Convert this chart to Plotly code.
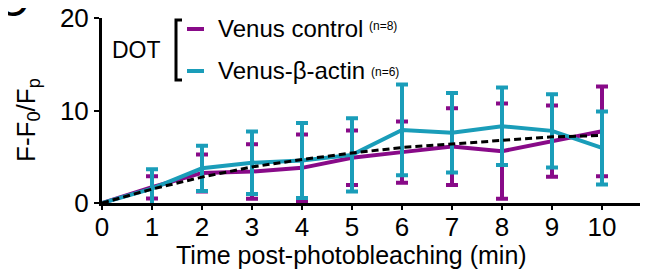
import plotly.graph_objects as go

# ---- data ----
time_min = [0, 1, 2, 3, 4, 5, 6, 7, 8, 9, 10]

control_mean = [0, 1.7, 3.25, 3.4, 3.8, 4.9, 5.5, 6.1, 5.6, 6.7, 7.75]
control_err = [0, 1.2, 2.0, 2.95, 3.6, 2.95, 3.3, 4.15, 5.15, 3.85, 4.85]

actin_mean = [0, 1.55, 3.75, 4.35, 4.6, 5.2, 7.9, 7.6, 8.3, 7.8, 5.95]
actin_err = [0, 2.1, 2.45, 3.37, 4.05, 3.97, 4.9, 4.3, 4.2, 3.95, 3.95]

fit_values = [0, 1.5, 2.8, 3.9, 4.7, 5.4, 6.0, 6.4, 6.8, 7.15, 7.3]

x_ticks = [0, 1, 2, 3, 4, 5, 6, 7, 8, 9, 10]
y_ticks = [0, 10, 20]

PURPLE = "#880a88"
CYAN = "#1a9db9"
FONT = "Liberation Sans, Arial, sans-serif"

# page body has an 8px margin: figure coordinates = reference pixels - 8
OFF = 8
W, H = 640, 269
L, R, T, B = 94, 8, 10, 74
PW, PH = W - L - R, H - T - B


def px(p):
    return (p - OFF - L) / PW


def py(p):
    return (H - B - (p - OFF)) / PH


fig = go.Figure()

fig.add_trace(go.Scatter(
    x=time_min, y=control_mean, mode="lines",
    line=dict(color=PURPLE, width=4),
    error_y=dict(type="data", array=control_err, color=PURPLE, thickness=4, width=6),
    showlegend=False,
))
fig.add_trace(go.Scatter(
    x=time_min, y=actin_mean, mode="lines",
    line=dict(color=CYAN, width=4),
    error_y=dict(type="data", array=actin_err, color=CYAN, thickness=4, width=6),
    showlegend=False,
))
fig.add_trace(go.Scatter(
    x=time_min, y=fit_values, mode="lines",
    line=dict(color="black", width=3, dash="7px,4px"),
    showlegend=False,
))

fig.update_xaxes(
    range=[0, PW / 50.0], tickvals=x_ticks, ticktext=[str(v) for v in x_ticks],
    showgrid=False, zeroline=False, showline=True, linecolor="black", linewidth=3,
    ticks="outside", ticklen=4, tickwidth=2, tickcolor="black",
    ticklabelstandoff=-5, ticklabeloverflow="allow", automargin=False,
    tickfont=dict(size=26, color="black", family=FONT),
)
fig.update_yaxes(
    range=[0, 20], tickvals=y_ticks,
    showgrid=False, zeroline=False, showline=True, linecolor="black", linewidth=3,
    ticks="outside", ticklen=5, tickwidth=2, tickcolor="black",
    ticklabeloverflow="allow", automargin=False,
    tickfont=dict(size=26, color="black", family=FONT),
)

annotations = [
    dict(text="Time post-photobleaching (min)", x=px(351), y=py(255),
         font=dict(size=25, color="black", family=FONT)),
    dict(text="F-F<sub>0</sub>/F<sub>p</sub>", x=px(28), y=py(120), textangle=-90,
         font=dict(size=26, color="black", family=FONT)),
    dict(text="C", x=px(12), y=py(0), font=dict(size=44, color="black", family=FONT)),
    dict(text="DOT", x=px(136), y=py(50), font=dict(size=23, color="black", family=FONT)),
    dict(text="Venus control", x=px(216), y=py(28), xanchor="left",
         font=dict(size=24, color="black", family=FONT)),
    dict(text="(n=8)", x=px(367), y=py(26), xanchor="left",
         font=dict(size=12, color="black", family=FONT)),
    dict(text="Venus-β-actin", x=px(216), y=py(70), xanchor="left",
         font=dict(size=24, color="black", family=FONT)),
    dict(text="(n=6)", x=px(369), y=py(72), xanchor="left",
         font=dict(size=12, color="black", family=FONT)),
]
for a in annotations:
    a.setdefault("xanchor", "center")
    a.update(xref="paper", yref="paper", yanchor="middle", showarrow=False)

shapes = [
    # bracket
    dict(type="path", path=f"M {px(182)} {py(20)} L {px(176)} {py(20)} L {px(176)} {py(80)} L {px(182)} {py(80)}",
         line=dict(color="black", width=3)),
    dict(type="line", x0=px(187), x1=px(204), y0=py(29), y1=py(29),
         line=dict(color=PURPLE, width=4)),
    dict(type="line", x0=px(187), x1=px(204), y0=py(71), y1=py(71),
         line=dict(color=CYAN, width=4)),
]
for s in shapes:
    s.update(xref="paper", yref="paper")

fig.update_layout(
    width=W, height=H,
    margin=dict(l=L, r=R, t=T, b=B, autoexpand=False),
    paper_bgcolor="white", plot_bgcolor="white",
    annotations=annotations, shapes=shapes,
    font=dict(family=FONT, color="black"),
)

fig.write_html("out.html")
